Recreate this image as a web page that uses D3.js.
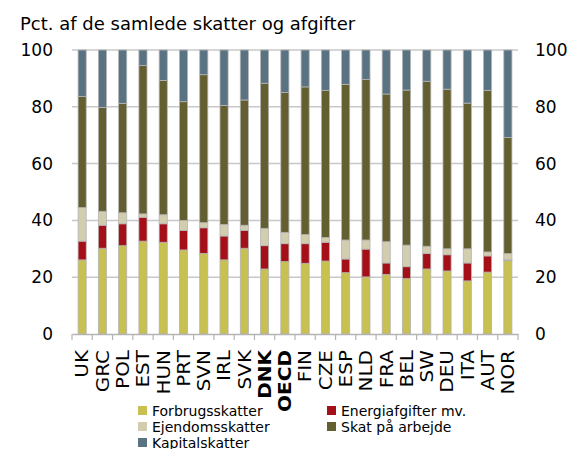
<!DOCTYPE html>
<html>
<head>
<meta charset="utf-8">
<script src="https://cdn.jsdelivr.net/npm/d3@7"></script>
<style>
  body { margin: 0; background: #fff; }
  svg { font-family: "DejaVu Sans", sans-serif; }
</style>
</head>
<body>
<div id="chart"></div>
<script>
// lande / kategorier
let countries = ["UK", "GRC", "POL", "EST", "HUN", "PRT", "SVN", "IRL", "SVK", "DNK", "OECD",
    "FIN", "CZE", "ESP", "NLD", "FRA", "BEL", "SW", "DEU", "ITA", "AUT", "NOR"];
let boldCountries = ["DNK", "OECD"];

// andele i pct.
let forbrug   = [26.1, 30.2, 31.1, 32.7, 32.3, 29.6, 28.4, 26.1, 30.2, 22.9, 25.5, 24.9, 25.7, 21.6, 20.1, 21.0, 19.5, 22.9, 22.2, 18.7, 21.8, 25.8];
let energi    = [6.6, 8.1, 7.7, 8.4, 6.5, 6.9, 9.0, 8.4, 6.3, 8.2, 6.3, 6.9, 6.6, 4.8, 9.8, 4.0, 4.2, 5.4, 5.7, 6.3, 5.7, 0.3];
let ejendom   = [11.8, 4.9, 3.9, 1.2, 3.2, 3.5, 1.8, 4.1, 1.8, 6.1, 4.0, 3.2, 1.7, 6.7, 3.2, 7.5, 7.6, 2.6, 2.1, 5.0, 1.4, 2.2];
let arbejde   = [39.1, 36.6, 38.5, 52.2, 47.3, 41.8, 52.1, 41.9, 44.1, 51.1, 49.2, 52.0, 51.8, 54.8, 56.5, 52.0, 54.6, 58.1, 56.2, 51.3, 56.9, 40.9];
let kapital   = [16.4, 20.2, 18.8, 5.5, 10.7, 18.2, 8.7, 19.5, 17.6, 11.7, 15.0, 13.0, 14.2, 12.1, 10.4, 15.5, 14.1, 11.0, 13.8, 18.7, 14.2, 30.8];

let seriesNames = ["Forbrugsskatter", "Energiafgifter mv.", "Ejendomsskatter", "Skat på arbejde", "Kapitalskatter"];
let seriesColors = ["#c8c050", "#a50f18", "#d3cdaf", "#645f30", "#5a7383"];
let yTicks = [0, 20, 40, 60, 80, 100];
let title = "Pct. af de samlede skatter og afgifter";

let seriesValues = [forbrug, energi, ejendom, arbejde, kapital];
let rows = countries.map((c, i) => {
    let row = {country: c};
    seriesNames.forEach((s, j) => row[s] = seriesValues[j][i]);
    return row;
});

let width = 571, height = 449;
let margin = {top: 50, right: 53, bottom: 115, left: 72};
let innerW = width - margin.left - margin.right;
let innerH = height - margin.top - margin.bottom;

let svg = d3.select("#chart").append("svg")
    .attr("width", width)
    .attr("height", height);

svg.append("text")
    .attr("x", 20)
    .attr("y", 30)
    .style("font-size", "18px")
    .style("fill", "#000")
    .text(title);

let g = svg.append("g")
    .attr("transform", "translate(" + margin.left + "," + margin.top + ")");

let x = d3.scaleBand().domain(countries).range([0, innerW]).paddingInner(0.6).paddingOuter(0.3);
let y = d3.scaleLinear().domain([0, 100]).range([innerH, 0]);

// gitterlinjer
g.selectAll(".grid")
    .data(yTicks.filter(d => d > 0))
    .join("line")
    .attr("x1", 0).attr("x2", innerW)
    .attr("y1", d => y(d)).attr("y2", d => y(d))
    .style("stroke", "#c8c8c8")
    .style("stroke-width", 1.5);

// y-akser venstre og højre (kun tekst)
let yLeft = g.append("g").call(d3.axisLeft(y).tickValues(yTicks).tickSize(0).tickPadding(19));
let yRight = g.append("g").attr("transform", "translate(" + innerW + ",0)")
    .call(d3.axisRight(y).tickValues(yTicks).tickSize(0).tickPadding(17));
[yLeft, yRight].forEach(a => {
    a.select(".domain").remove();
    a.selectAll("text").style("font-size", "17px").style("fill", "#000").style("font-family", "DejaVu Sans");
});

// stablede søjler
let stack = d3.stack().keys(seriesNames)(rows);
g.selectAll(".layer")
    .data(stack)
    .join("g")
    .style("fill", (d, i) => seriesColors[i])
    .selectAll("rect")
    .data(d => d)
    .join("rect")
    .attr("x", d => x(d.data.country))
    .attr("width", x.bandwidth())
    .attr("y", d => y(d[1]))
    .attr("height", d => Math.max(0, y(d[0]) - y(d[1])))
    .style("stroke", "#b4b4b4")
    .style("stroke-width", 0.8);

// x-akse
let xAxis = g.append("g")
    .attr("transform", "translate(0," + innerH + ")")
    .call(d3.axisBottom(x).tickSize(0).tickPadding(0));
xAxis.select(".domain").style("stroke", "#b4b4b4").style("stroke-width", 1.5);
xAxis.selectAll("text")
    .style("font-size", "20px")
    .style("fill", "#000")
    .style("font-family", "DejaVu Sans")
    .style("font-weight", d => boldCountries.includes(d) ? "bold" : "normal")
    .attr("text-anchor", "end")
    .attr("transform", "rotate(-90) scale(1,0.9)")
    .attr("x", -16)
    .attr("y", 0)
    .attr("dy", "0.35em");

// små tick-streger mellem kategorierne
g.selectAll(".sep")
    .data(d3.range(countries.length + 1))
    .join("line")
    .attr("x1", i => i * innerW / countries.length)
    .attr("x2", i => i * innerW / countries.length)
    .attr("y1", innerH).attr("y2", innerH + 6)
    .style("stroke", "#b4b4b4")
    .style("stroke-width", 1.2);

// legende
let legendPos = [[138, 411], [327, 411], [138, 427], [327, 427], [138, 443]];
let legend = svg.append("g");
seriesNames.forEach((s, i) => {
    let lg = legend.append("g").attr("transform", "translate(" + legendPos[i][0] + "," + legendPos[i][1] + ")");
    lg.append("rect").attr("x", 0).attr("y", -5).attr("width", 9).attr("height", 9).style("fill", seriesColors[i]);
    lg.append("text").attr("x", 14).attr("y", 0).attr("dy", "0.35em")
        .style("font-size", "14px").style("fill", "#000").text(s);
});
</script>
</body>
</html>
